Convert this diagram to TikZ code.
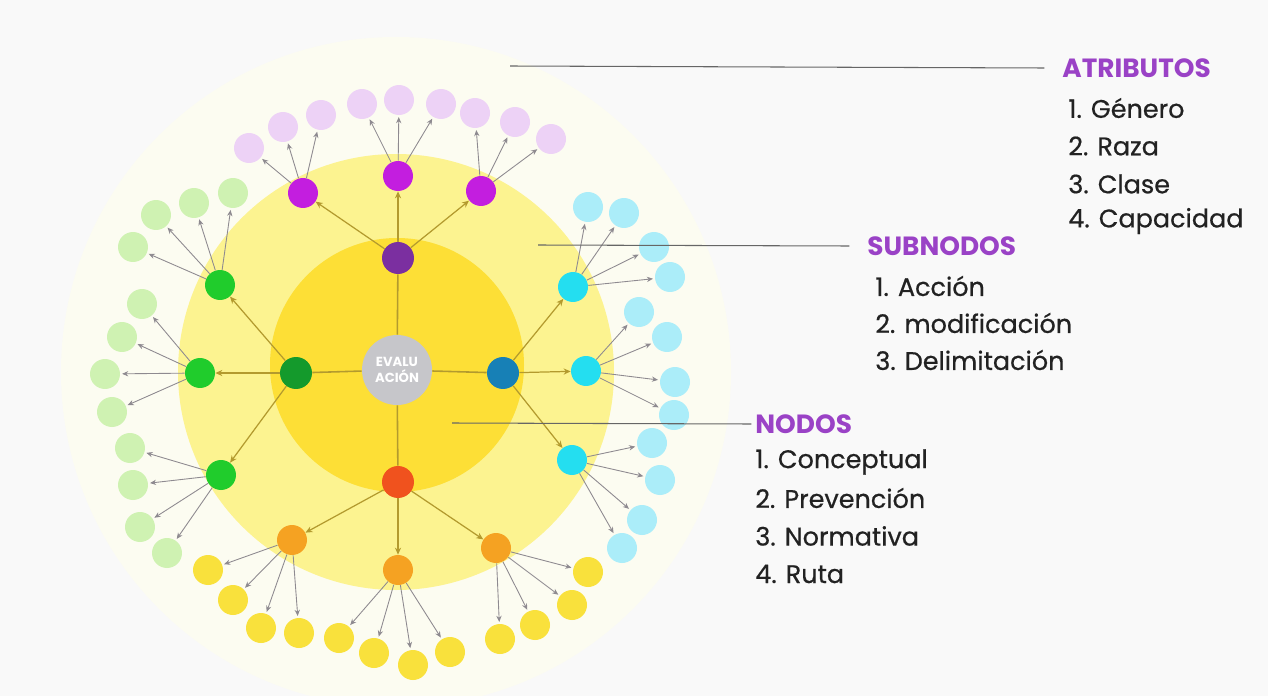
\documentclass[tikz,border=0pt]{standalone}
\usepackage{fontspec}
\setmainfont{Poppins}
\newfontfamily\itemfont{Poppins}[FakeBold=0.6]
\usetikzlibrary{arrows.meta}
\usetikzlibrary{calc}

\definecolor{paper}{HTML}{F9F9F9}
\definecolor{halo}{HTML}{FCFCF1}
\definecolor{ringmid}{HTML}{FCF390}
\definecolor{ringin}{HTML}{FDDF36}
\definecolor{core}{HTML}{C6C6CA}
\definecolor{olivel}{HTML}{B39A2E}
\definecolor{arrgray}{HTML}{8E8A90}
\definecolor{titlecol}{HTML}{9A42C6}
\definecolor{textcol}{HTML}{222222}
% nodos
\definecolor{mpurple}{HTML}{7B2FA0}
\definecolor{mgreen}{HTML}{149A2C}
\definecolor{mblue}{HTML}{1780B6}
\definecolor{mred}{HTML}{F0521E}
% subnodos
\definecolor{smag}{HTML}{C31EDF}
\definecolor{sgreen}{HTML}{20CC2C}
\definecolor{scyan}{HTML}{24DEF0}
\definecolor{sorange}{HTML}{F5A222}
% atributos
\definecolor{alila}{HTML}{EDD2F6}
\definecolor{agreen}{HTML}{CFF2B2}
\definecolor{acyan}{HTML}{ABEDF9}
\definecolor{ayellow}{HTML}{F9E13C}

\tikzset{
  mainnode/.style={circle, minimum size=0.64cm, inner sep=0pt},
  subnode/.style={circle, minimum size=0.6cm, inner sep=0pt},
  attrnode/.style={circle, minimum size=0.6cm, inner sep=0pt},
  arr/.style={-{Stealth[length=3.5pt,width=3pt]}, arrgray, line width=0.5pt, shorten >=1pt},
  link/.style={-{Stealth[length=4pt,width=3.5pt]}, olivel, line width=0.7pt},
  spoke/.style={olivel, line width=0.9pt},
  lbl/.style={gray!80!black, line width=0.6pt},
  title/.style={anchor=west, inner sep=0pt, text=titlecol, font=\fontsize{15}{18}\selectfont\bfseries},
  item/.style={anchor=west, inner sep=0pt, text=textcol, font=\itemfont\fontsize{14.5}{17}\selectfont},
}

\begin{document}
\begin{tikzpicture}[x=0.02cm, y=-0.02cm]
\fill[paper] (0,0) rectangle (1268,696);
\useasboundingbox (0,0) rectangle (1268,696);

% circulos de fondo
\fill[halo] (396,372) circle (335);
\fill[ringmid] (396,372) circle (218);
\fill[ringin] (397,365) circle (127);

% centro y nodos
\node[circle, fill=core, minimum size=1.4cm, inner sep=0pt, text=white,
  align=center, font=\fontsize{7.5}{9}\selectfont\bfseries] (eval) at (397,370) {EVALU\\ACIÓN};
\node[mainnode, fill=mpurple] (np) at (398,258) {};
\node[mainnode, fill=mgreen] (ng) at (296,373) {};
\node[mainnode, fill=mblue] (nb) at (503,373) {};
\node[mainnode, fill=mred] (nr) at (398,482) {};
\foreach \n in {np,ng,nb,nr}
  \draw[spoke] (eval) -- (\n);

% subnodos
\node[subnode, fill=smag] (sp1) at (303,193) {};
\node[subnode, fill=smag] (sp2) at (398,176) {};
\node[subnode, fill=smag] (sp3) at (481,191) {};
\node[subnode, fill=sgreen] (sg1) at (220,285) {};
\node[subnode, fill=sgreen] (sg2) at (200,373) {};
\node[subnode, fill=sgreen] (sg3) at (221,475) {};
\node[subnode, fill=scyan] (sc1) at (573,287) {};
\node[subnode, fill=scyan] (sc2) at (586,371) {};
\node[subnode, fill=scyan] (sc3) at (572,460) {};
\node[subnode, fill=sorange] (so1) at (292,540) {};
\node[subnode, fill=sorange] (so2) at (398,570) {};
\node[subnode, fill=sorange] (so3) at (496,548) {};
\foreach \i in {1,2,3} {
  \draw[link] (np) -- (sp\i);
  \draw[link] (ng) -- (sg\i);
  \draw[link] (nb) -- (sc\i);
  \draw[link] (nr) -- (so\i);
}

% atributos
\foreach \s/\k/\x/\y in {sp1/1/249/148, sp1/2/283/127, sp1/3/321/115,
    sp2/4/362/104, sp2/5/399/100, sp2/6/441/104,
    sp3/7/475/113, sp3/8/515/122, sp3/9/551/139}
  {\node[attrnode, fill=alila] (ap\k) at (\x,\y) {}; \draw[arr] (\s) -- (ap\k);}
\foreach \s/\k/\x/\y in {sg1/1/233/193, sg1/2/194/203, sg1/3/156/215, sg1/4/133/247,
    sg2/5/142/304, sg2/6/122/337, sg2/7/105/374, sg2/8/112/412,
    sg3/9/130/448, sg3/10/133/485, sg3/11/140/527, sg3/12/167/553}
  {\node[attrnode, fill=agreen] (ag\k) at (\x,\y) {}; \draw[arr] (\s) -- (ag\k);}
\foreach \s/\k/\x/\y in {sc1/1/588/207, sc1/2/624/213, sc1/3/654/247, sc1/4/670/277,
    sc2/5/639/312, sc2/6/667/337, sc2/7/675/382, sc2/8/674/415,
    sc3/9/652/443, sc3/10/660/480, sc3/11/642/520, sc3/12/622/548}
  {\node[attrnode, fill=acyan] (ac\k) at (\x,\y) {}; \draw[arr] (\s) -- (ac\k);}
\foreach \s/\k/\x/\y in {so1/1/208/570, so1/2/233/600, so1/3/261/628, so1/4/299/633,
    so2/5/339/638, so2/6/374/653, so2/7/413/665, so2/8/450/652,
    so3/9/588/572, so3/10/572/605, so3/11/535/625, so3/12/500/639}
  {\node[attrnode, fill=ayellow] (ay\k) at (\x,\y) {}; \draw[arr] (\s) -- (ay\k);}

% leyenda
\node[title] (tatr) at (1062,68) {ATRIBUTOS};
\node[title] (tsub) at (867,246) {SUBNODOS};
\node[title] (tnod) at (755,424) {NODOS};
\coordinate (catr) at (510,66);
\coordinate (csub) at (538,245);
\coordinate (cnod) at (452,423);
\draw[lbl] (catr) -- ([xshift=-10pt]tatr.west);
\draw[lbl] (csub) -- ([xshift=-10pt]tsub.west);
\draw[lbl] (cnod) -- ([xshift=-2pt]tnod.west);

\foreach \y/\t in {108/1. Género, 146/2. Raza, 184/3. Clase, 221/4. Capacidad}
  \node[item] at (1068,\y) {\t};
\foreach \y/\t in {286/1. Acción, 323/2. modificación, 360/3. Delimitación}
  \node[item] at (875,\y) {\t};
\foreach \y/\t in {462/1. Conceptual, 498/2. Prevención, 536/3. Normativa, 574/4. Ruta}
  \node[item] at (755,\y) {\t};

\end{tikzpicture}
\end{document}
